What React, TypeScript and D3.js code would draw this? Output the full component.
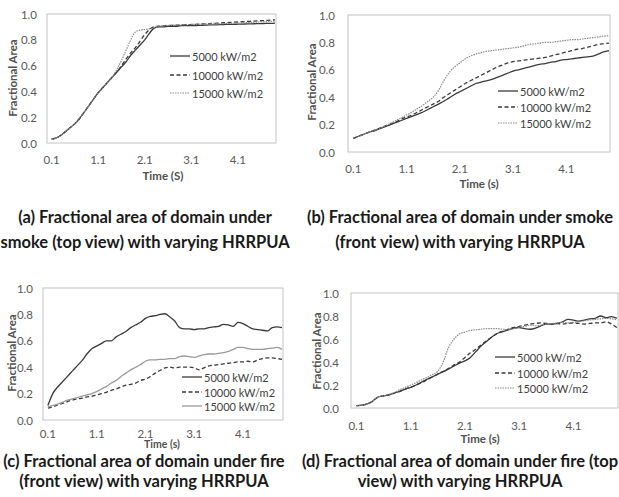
import React from "react";
import * as d3 from "d3";

const TIME = [0.1,0.2,0.3,0.4,0.5,0.6,0.7,0.8,0.9,1.0,1.1,1.2,1.3,1.4,1.5,1.6,1.7,1.8,1.9,2.0,2.1,2.2,2.3,2.4,2.5,2.6,2.7,2.8,2.9,3.0,3.1,3.2,3.3,3.4,3.5,3.6,3.7,3.8,3.9,4.0,4.1,4.2,4.3,4.4,4.5,4.6,4.7,4.8,4.9];
const X_TICKS = [0.1, 1.1, 2.1, 3.1, 4.1];
const Y_TICKS = [0, 0.2, 0.4, 0.6, 0.8, 1.0];
const SERIES_NAMES = ["5000 kW/m2", "10000 kW/m2", "15000 kW/m2"];

const A_5000 = [.03,.04,.06,.09,.12,.15,.19,.24,.29,.34,.39,.43,.47,.51,.55,.59,.63,.68,.72,.76,.80,.85,.89,.90,.90,.905,.905,.905,.91,.91,.91,.91,.912,.913,.915,.915,.917,.918,.92,.92,.921,.922,.923,.924,.925,.926,.927,.928,.93];
const A_10000 = [.03,.04,.06,.09,.12,.15,.19,.24,.29,.34,.39,.43,.47,.51,.55,.60,.65,.70,.74,.79,.84,.88,.90,.905,.91,.91,.912,.913,.915,.917,.918,.92,.922,.924,.926,.928,.93,.932,.934,.936,.938,.94,.942,.944,.946,.948,.95,.952,.955];
const A_15000 = [.03,.04,.06,.09,.12,.15,.19,.24,.29,.34,.39,.43,.47,.51,.57,.64,.72,.80,.86,.875,.88,.885,.895,.905,.91,.912,.913,.915,.916,.918,.919,.92,.921,.922,.923,.924,.925,.926,.927,.928,.93,.931,.933,.935,.937,.939,.941,.943,.945];

const B_5000 = [.10,.115,.13,.145,.155,.17,.185,.20,.215,.23,.245,.26,.275,.29,.31,.33,.35,.37,.395,.42,.44,.46,.48,.50,.51,.52,.53,.545,.56,.575,.59,.60,.61,.62,.63,.64,.645,.655,.66,.67,.675,.68,.685,.69,.695,.70,.715,.73,.74];
const B_10000 = [.10,.115,.13,.145,.16,.175,.19,.205,.22,.24,.255,.27,.29,.31,.33,.35,.37,.40,.425,.45,.475,.50,.52,.54,.56,.58,.60,.62,.635,.65,.66,.665,.67,.675,.68,.685,.69,.70,.71,.72,.73,.74,.75,.755,.765,.775,.785,.79,.795];
const B_15000 = [.10,.115,.13,.145,.16,.175,.19,.21,.23,.25,.27,.29,.315,.34,.37,.40,.45,.52,.58,.62,.65,.68,.70,.715,.725,.735,.74,.745,.75,.755,.76,.765,.775,.785,.79,.795,.80,.80,.805,.81,.815,.82,.82,.825,.83,.835,.84,.845,.85];

const C_5000 = [.11,.20,.25,.29,.33,.37,.41,.45,.50,.54,.56,.58,.60,.60,.63,.65,.67,.70,.72,.74,.77,.785,.79,.80,.805,.78,.75,.70,.69,.69,.685,.69,.69,.70,.705,.71,.725,.72,.71,.74,.73,.71,.69,.685,.68,.675,.70,.705,.70];
const C_10000 = [.09,.10,.115,.125,.14,.15,.16,.165,.175,.18,.19,.20,.21,.225,.235,.25,.265,.27,.28,.30,.31,.33,.355,.375,.395,.40,.395,.40,.40,.40,.395,.38,.395,.41,.415,.42,.425,.43,.435,.44,.44,.445,.44,.455,.465,.47,.47,.465,.46];
const C_15000 = [.10,.11,.12,.135,.15,.16,.17,.18,.19,.20,.215,.235,.255,.28,.30,.33,.355,.38,.40,.42,.445,.455,.455,.46,.46,.465,.465,.48,.485,.48,.475,.485,.495,.50,.50,.505,.51,.52,.535,.55,.55,.54,.535,.535,.535,.54,.545,.55,.535];

const D_5000 = [.02,.025,.035,.06,.095,.105,.115,.13,.145,.165,.18,.20,.225,.25,.27,.295,.315,.34,.365,.39,.41,.44,.49,.54,.58,.62,.65,.665,.68,.695,.70,.69,.685,.695,.715,.73,.73,.735,.75,.77,.765,.755,.765,.775,.78,.80,.785,.795,.78];
const D_10000 = [.02,.025,.035,.06,.095,.105,.115,.13,.145,.165,.18,.20,.22,.245,.27,.295,.32,.345,.375,.40,.44,.48,.51,.55,.585,.62,.65,.67,.685,.70,.71,.72,.73,.735,.74,.735,.73,.735,.73,.735,.74,.735,.73,.735,.74,.74,.75,.73,.70];
const D_15000 = [.02,.025,.035,.06,.095,.105,.12,.135,.16,.18,.20,.22,.245,.265,.29,.32,.40,.53,.60,.645,.66,.675,.68,.685,.69,.69,.69,.685,.68,.69,.70,.71,.72,.715,.72,.73,.735,.74,.745,.74,.745,.75,.76,.765,.77,.775,.78,.775,.77];

const X_TITLES = ["Time (S)", "Time (s)", "Time (s)", "Time (s)"];
const CAPTIONS = [
  ["(a) Fractional area of domain under", "smoke (top view) with varying HRRPUA"],
  ["(b) Fractional area of domain under smoke", "(front view) with varying HRRPUA"],
  ["(c) Fractional area of domain under fire", "(front view) with varying HRRPUA"],
  ["(d) Fractional area of domain under fire (top", "view) with varying HRRPUA"],
];

const panels = [
  { data: [A_5000, A_10000, A_15000], box: { l: 47, r: 276, t: 14, b: 143 }, yGap: 10, xLabY: 159, xTitle: { x: 163, y: 175, fs: 11.5 }, yTitle: { x: 12, y: 78 }, legend: { x: 170, ys: [56, 75, 93] }, cap: { x: 145, ys: [217, 242] }, thirdSolid: false },
  { data: [B_5000, B_10000, B_15000], box: { l: 348, r: 610, t: 15, b: 152 }, yGap: 13, xLabY: 168, xTitle: { x: 479, y: 183, fs: 11.5 }, yTitle: { x: 311, y: 82 }, legend: { x: 498, ys: [91, 107, 123] }, cap: { x: 460, ys: [217, 242] }, thirdSolid: false },
  { data: [C_5000, C_10000, C_15000], box: { l: 43, r: 283, t: 288, b: 420 }, yGap: 10, xLabY: 433, xTitle: { x: 162, y: 444, fs: 10.5 }, yTitle: { x: 11, y: 353 }, legend: { x: 182, ys: [377, 392, 406] }, cap: { x: 144, ys: [461, 481] }, thirdSolid: true },
  { data: [D_5000, D_10000, D_15000], box: { l: 351, r: 618, t: 293, b: 408 }, yGap: 12, xLabY: 425, xTitle: { x: 480, y: 438, fs: 11.5 }, yTitle: { x: 316, y: 351 }, legend: { x: 495, ys: [357, 373, 388] }, cap: { x: 460, ys: [461, 481] }, thirdSolid: false },
];

const FONT = "Lato, 'Open Sans', sans-serif";

function Panel({ p, idx }: { p: any; idx: number }) {
  const x = d3.scaleLinear().domain([0.0, 4.92]).range([p.box.l, p.box.r]);
  const y = d3.scaleLinear().domain([0, 1]).range([p.box.b, p.box.t]);
  const line = d3.line<number>().x((_, i) => x(TIME[i])).y((v) => y(v)).curve(d3.curveMonotoneX);
  const styles = [
    { stroke: "#3a3a3a", width: 1.3, dash: undefined },
    { stroke: "#3a3a3a", width: 1.3, dash: "4,2.5" },
    p.thirdSolid
      ? { stroke: "#9a9a9a", width: 1.3, dash: undefined }
      : { stroke: "#8a8a8a", width: 1.2, dash: "1.5,1" },
  ];
  return (
    <g>
      <rect x={p.box.l} y={p.box.t} width={p.box.r - p.box.l} height={p.box.b - p.box.t} fill="none" stroke="#c4c4c4" strokeWidth={1} />
      {Y_TICKS.map((v) => (
        <text key={"y" + v} x={p.box.l - p.yGap} y={y(v)} textAnchor="end" dominantBaseline="central" fontFamily={FONT} fontSize={11.5} fill="#595959">{v.toFixed(1)}</text>
      ))}
      {X_TICKS.map((v) => (
        <text key={"x" + v} x={x(v)} y={p.xLabY} textAnchor="middle" dominantBaseline="central" fontFamily={FONT} fontSize={11.5} fill="#595959">{v.toFixed(1)}</text>
      ))}
      <text x={p.xTitle.x} y={p.xTitle.y} textAnchor="middle" dominantBaseline="central" fontFamily={FONT} fontWeight="bold" fontSize={p.xTitle.fs} fill="#505050">{X_TITLES[idx]}</text>
      <text transform={`translate(${p.yTitle.x},${p.yTitle.y}) rotate(-90)`} textAnchor="middle" dominantBaseline="central" fontFamily={FONT} fontWeight="bold" fontSize={11.5} fill="#505050">Fractional Area</text>
      {p.data.map((s: number[], i: number) => (
        <path key={"s" + i} d={line(s) || ""} fill="none" stroke={styles[i].stroke} strokeWidth={styles[i].width} strokeDasharray={styles[i].dash} />
      ))}
      {SERIES_NAMES.map((n, i) => (
        <g key={"l" + i}>
          <line x1={p.legend.x} x2={p.legend.x + 20} y1={p.legend.ys[i]} y2={p.legend.ys[i]} stroke={styles[i].stroke} strokeWidth={styles[i].width} strokeDasharray={styles[i].dash} />
          <text x={p.legend.x + 22} y={p.legend.ys[i]} dominantBaseline="central" fontFamily={FONT} fontSize={11} fill="#404040">{n}</text>
        </g>
      ))}
      {CAPTIONS[idx].map((c, i) => (
        <text key={"c" + i} x={p.cap.x} y={p.cap.ys[i]} textAnchor="middle" dominantBaseline="central" fontFamily={FONT} fontWeight="bold" fontSize={16.5} fill="#1a1a1a">{c}</text>
      ))}
    </g>
  );
}

export default function App() {
  return (
    <svg width={619} height={497} style={{ position: "absolute", left: 0, top: 0, background: "#fff" }}>
      <rect width={619} height={497} fill="#fff" />
      {panels.map((p, i) => (
        <Panel key={i} p={p} idx={i} />
      ))}
    </svg>
  );
}
